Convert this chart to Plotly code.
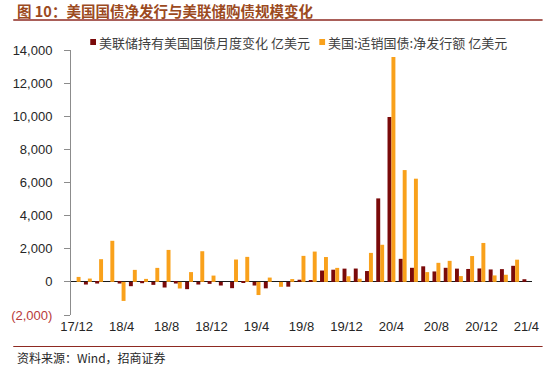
import plotly.graph_objects as go

# ---------------- data ----------------
months = ["17/12",
          "18/1", "18/2", "18/3", "18/4", "18/5", "18/6", "18/7", "18/8", "18/9", "18/10", "18/11", "18/12",
          "19/1", "19/2", "19/3", "19/4", "19/5", "19/6", "19/7", "19/8", "19/9", "19/10", "19/11", "19/12",
          "20/1", "20/2", "20/3", "20/4", "20/5", "20/6", "20/7", "20/8", "20/9", "20/10", "20/11", "20/12",
          "21/1", "21/2", "21/3", "21/4"]
tick_months = ["17/12", "18/4", "18/8", "18/12", "19/4", "19/8", "19/12",
               "20/4", "20/8", "20/12", "21/4"]

# 美联储持有美国国债月度变化 (亿美元)
fed_change = [0, -160, -100, 0, -100, -260, -80, -180, -340, -100, -440, -160, -120,
              -220, -380, -40, -220, -390, 0, -290, 130, 100, 685, 735, 800,
              805, 655, 5040, 9950, 1390, 850, 940, 630, 850, 800, 780, 810,
              750, 770, 970, 160]
# 美国:适销国债:净发行额 (亿美元)
net_issuance = [300, 200, 1370, 2480, -1150, 725, 180, 845, 1930, -400, 590, 1850, 380,
                0, 1350, 1510, -795, 260, -300, 170, 1570, 1830, 1500, 845, 340,
                190, 1750, 2240, 13570, 6750, 6230, 590, 1150, 1270, 350, 1560, 2350,
                390, 430, 1340, None]

y_ticks = [-2000, 0, 2000, 4000, 6000, 8000, 10000, 12000, 14000]
y_tick_labels = ['<span style="color:#B83A3A">(2,000)</span>', "0", "2,000", "4,000",
                 "6,000", "8,000", "10,000", "12,000", "14,000"]

series_names = ["美联储持有美国国债月度变化 亿美元", "美国:适销国债:净发行额 亿美元"]
title_text = "图 10：美国国债净发行与美联储购债规模变化"
source_text = "资料来源：Wind，招商证券"

# ---------------- layout helpers ----------------
W, H = 550, 366
L, R, T, B = 60, 11, 50, 51
PW, PH = W - L - R, H - T - B


def px(xp):
    return (xp - L) / PW


def py(yp):
    return (H - B - yp) / PH


DARK = "#7A0A0A"
ORANGE = "#F9A11B"
CJK = "Noto Sans CJK SC"
LAT = "Liberation Sans, Arial, sans-serif"

fig = go.Figure()
fig.add_trace(go.Bar(x=months, y=fed_change, name=series_names[0],
                     marker=dict(color=DARK, line=dict(width=0))))
fig.add_trace(go.Bar(x=months, y=net_issuance, name=series_names[1],
                     marker=dict(color=ORANGE, line=dict(width=0))))

fig.update_layout(
    width=W, height=H,
    margin=dict(l=L, r=R, t=T, b=B),
    paper_bgcolor="white", plot_bgcolor="white",
    barmode="group", bargap=0.3, bargroupgap=0,
    showlegend=False,
    font=dict(family=LAT, size=13, color="#262626"),
)

fig.update_xaxes(
    type="category", categoryorder="array", categoryarray=months,
    tickmode="array", tickvals=tick_months, ticktext=tick_months,
    showgrid=False, showline=False, ticks="",
    tickfont=dict(family=LAT, size=13, color="#262626"),
    ticklabelstandoff=2,
)
fig.update_yaxes(
    range=[-2000, 14000],
    tickmode="array", tickvals=y_ticks, ticktext=y_tick_labels,
    showgrid=False, showline=True, linecolor="#8C8C8C", linewidth=1,
    ticks="outside", ticklen=6, tickcolor="#8C8C8C",
    zeroline=True, zerolinecolor="#1A1A1A", zerolinewidth=1,
    tickfont=dict(family=LAT, size=13, color="#262626"),
    ticklabelstandoff=9,
)

shapes = [
    # line under title
    dict(type="line", xref="paper", yref="paper", x0=px(0), x1=px(W), y0=py(20), y1=py(20),
         line=dict(color="#8E2A22", width=1.5)),
    # line above source
    dict(type="line", xref="paper", yref="paper", x0=px(0), x1=px(W), y0=py(346.5), y1=py(346.5),
         line=dict(color="#8E2A22", width=1.2)),
    # legend squares
    dict(type="rect", xref="paper", yref="paper", x0=px(80), x1=px(86), y0=py(45), y1=py(39),
         fillcolor=DARK, line=dict(width=0)),
    dict(type="rect", xref="paper", yref="paper", x0=px(318), x1=px(324), y0=py(45), y1=py(39),
         fillcolor=ORANGE, line=dict(width=0)),
]

annotations = [
    dict(text="<b>" + title_text + "</b>", xref="paper", yref="paper", x=px(2), y=py(10),
         xanchor="left", yanchor="middle", showarrow=False,
         font=dict(family=CJK, size=14.5, color="#9C4A1E")),
    dict(text=series_names[0], xref="paper", yref="paper", x=px(87), y=py(42),
         xanchor="left", yanchor="middle", showarrow=False,
         font=dict(family=CJK, size=13, color="#404040")),
    dict(text=series_names[1], xref="paper", yref="paper", x=px(325), y=py(42),
         xanchor="left", yanchor="middle", showarrow=False,
         font=dict(family=CJK, size=13, color="#404040")),
    dict(text=source_text, xref="paper", yref="paper", x=px(2), y=py(357),
         xanchor="left", yanchor="middle", showarrow=False,
         font=dict(family=CJK, size=12, color="#262626")),
]

fig.update_layout(shapes=shapes, annotations=annotations)

fig.write_html("out.html",
               config={"displayModeBar": False},
               post_script="document.body.style.margin='0px';document.body.style.overflow='hidden';")
